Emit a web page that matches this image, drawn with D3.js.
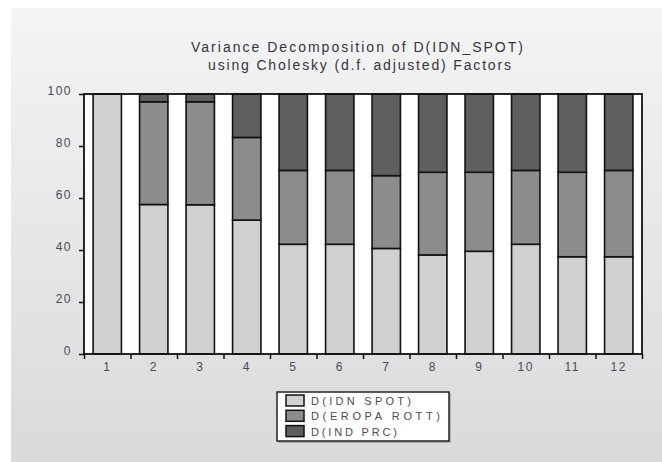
<!DOCTYPE html>
<html>
<head>
<meta charset="utf-8">
<script src="https://cdn.jsdelivr.net/npm/d3@7"></script>
<style>
  html, body { margin: 0; padding: 0; background: #fff; }
  svg { display: block; font-family: "Liberation Sans", Arial, sans-serif; }
</style>
</head>
<body>
<svg id="chart" width="662" height="462"></svg>
<script>
// Forecast horizons (periods)
const periods = ["1", "2", "3", "4", "5", "6", "7", "8", "9", "10", "11", "12"];
// Share of forecast-error variance (%) explained by each shock
const idnSpot   = [100, 57.5, 57.4, 51.5, 42.2, 42.2, 40.6, 38.1, 39.5, 42.2, 37.4, 37.4];
const eropaRott = [0,   39.5, 39.6, 31.8, 28.4, 28.4, 28.0, 31.8, 30.4, 28.4, 32.5, 33.2];
const indPrc    = [0,    3.0,  3.0, 16.7, 29.4, 29.4, 31.4, 30.1, 30.1, 29.4, 30.1, 29.4];
const seriesNames = ["D(IDN SPOT)", "D(EROPA ROTT)", "D(IND PRC)"];
const yTicks = [0, 20, 40, 60, 80, 100];
const titleLines = ["Variance Decomposition of D(IDN_SPOT)", "using Cholesky (d.f. adjusted) Factors"];

const colors = ["#d0d0d0", "#8c8c8c", "#5e5e5e"];

const svg = d3.select("#chart");

// panel background
const defs = svg.append("defs");
const grad = defs.append("linearGradient").attr("id", "bg").attr("x1", 0).attr("y1", 0).attr("x2", 0).attr("y2", 1);
grad.append("stop").attr("offset", "0%").attr("stop-color", "#f4f4f4");
grad.append("stop").attr("offset", "100%").attr("stop-color", "#dadada");
svg.append("rect").attr("x", 11).attr("y", 8).attr("width", 651).attr("height", 454).attr("fill", "url(#bg)");

// title
const title = svg.append("g").attr("fill", "#34343f").attr("font-size", 14);
title.append("text").attr("x", 191).attr("y", 52).attr("textLength", 332).attr("lengthAdjust", "spacing").text(titleLines[0]);
title.append("text").attr("x", 208).attr("y", 70).attr("textLength", 303).attr("lengthAdjust", "spacing").text(titleLines[1]);

// plot frame
const plotL = 84, plotR = 642, plotT = 94, plotB = 354;

const x = d3.scaleBand().domain(periods).range([plotL, plotR]).paddingInner(0.39).paddingOuter(0.195);
const y = d3.scaleLinear().domain([0, 100]).range([plotB, plotT]);

svg.append("rect").attr("x", plotL).attr("y", plotT).attr("width", plotR - plotL).attr("height", plotB - plotT)
  .attr("fill", "#fff");

// stacked data
const rows = periods.map((p, i) => ({ period: p, a: idnSpot[i], b: eropaRott[i], c: indPrc[i] }));
const stack = d3.stack().keys(["a", "b", "c"])(rows);

const layers = svg.append("g").selectAll("g").data(stack).join("g")
  .attr("fill", (d, i) => colors[i]);
layers.selectAll("rect").data(d => d).join("rect")
  .attr("x", d => x(d.data.period))
  .attr("width", x.bandwidth())
  .attr("y", d => y(d[1]))
  .attr("height", d => y(d[0]) - y(d[1]))
  .attr("stroke", "#111")
  .attr("stroke-width", 1.6);

// frame on top
svg.append("rect").attr("x", plotL).attr("y", plotT).attr("width", plotR - plotL).attr("height", plotB - plotT)
  .attr("fill", "none").attr("stroke", "#111").attr("stroke-width", 1.8);

// y axis
const yAxis = svg.append("g").attr("transform", `translate(${plotL},0)`)
  .call(d3.axisLeft(y).tickValues(yTicks).tickSize(5).tickPadding(7).tickFormat(d3.format("d")));
yAxis.select(".domain").remove();
yAxis.selectAll("line").attr("stroke", "#111").attr("stroke-width", 1.5);
yAxis.selectAll("text").attr("font-size", 12).attr("fill", "#4a4a5a").attr("dy", "0.05em")
  .style("letter-spacing", "1.5px")
  .attr("font-family", "Liberation Sans, Arial, sans-serif");

// x axis: ticks at band boundaries, labels at band centres
const xb = d3.scaleLinear().domain([0, periods.length]).range([plotL, plotR]);
const xTickAxis = svg.append("g").attr("transform", `translate(0,${plotB})`)
  .call(d3.axisBottom(xb).ticks(periods.length).tickSize(5).tickFormat(""));
xTickAxis.select(".domain").remove();
xTickAxis.selectAll("line").attr("stroke", "#111").attr("stroke-width", 1.5);

const xLab = svg.append("g").attr("transform", `translate(0,${plotB})`)
  .call(d3.axisBottom(x).tickSize(0).tickPadding(8));
xLab.select(".domain").remove();
xLab.selectAll("text").attr("font-size", 12).attr("fill", "#4a4a5a").style("letter-spacing", "1.5px")
  .attr("font-family", "Liberation Sans, Arial, sans-serif");

// legend
const lg = svg.append("g");
lg.append("rect").attr("x", 278).attr("y", 393).attr("width", 173).attr("height", 50).attr("fill", "#888").attr("opacity", 0.5);
lg.append("rect").attr("x", 277).attr("y", 392).attr("width", 172).attr("height", 49)
  .attr("fill", "#fff").attr("stroke", "#222").attr("stroke-width", 1.5);
const legendLengths = [100, 129, 86];
seriesNames.forEach((name, i) => {
  const yy = 395 + i * 15.3;
  lg.append("rect").attr("x", 286).attr("y", yy).attr("width", 18).attr("height", 11)
    .attr("fill", colors[i]).attr("stroke", "#111").attr("stroke-width", 1.5);
  lg.append("text").attr("x", 311).attr("y", yy + 10).attr("font-size", 11).attr("fill", "#4a4a5a")
    .attr("textLength", legendLengths[i]).attr("lengthAdjust", "spacing").text(name);
});
</script>
</body>
</html>
